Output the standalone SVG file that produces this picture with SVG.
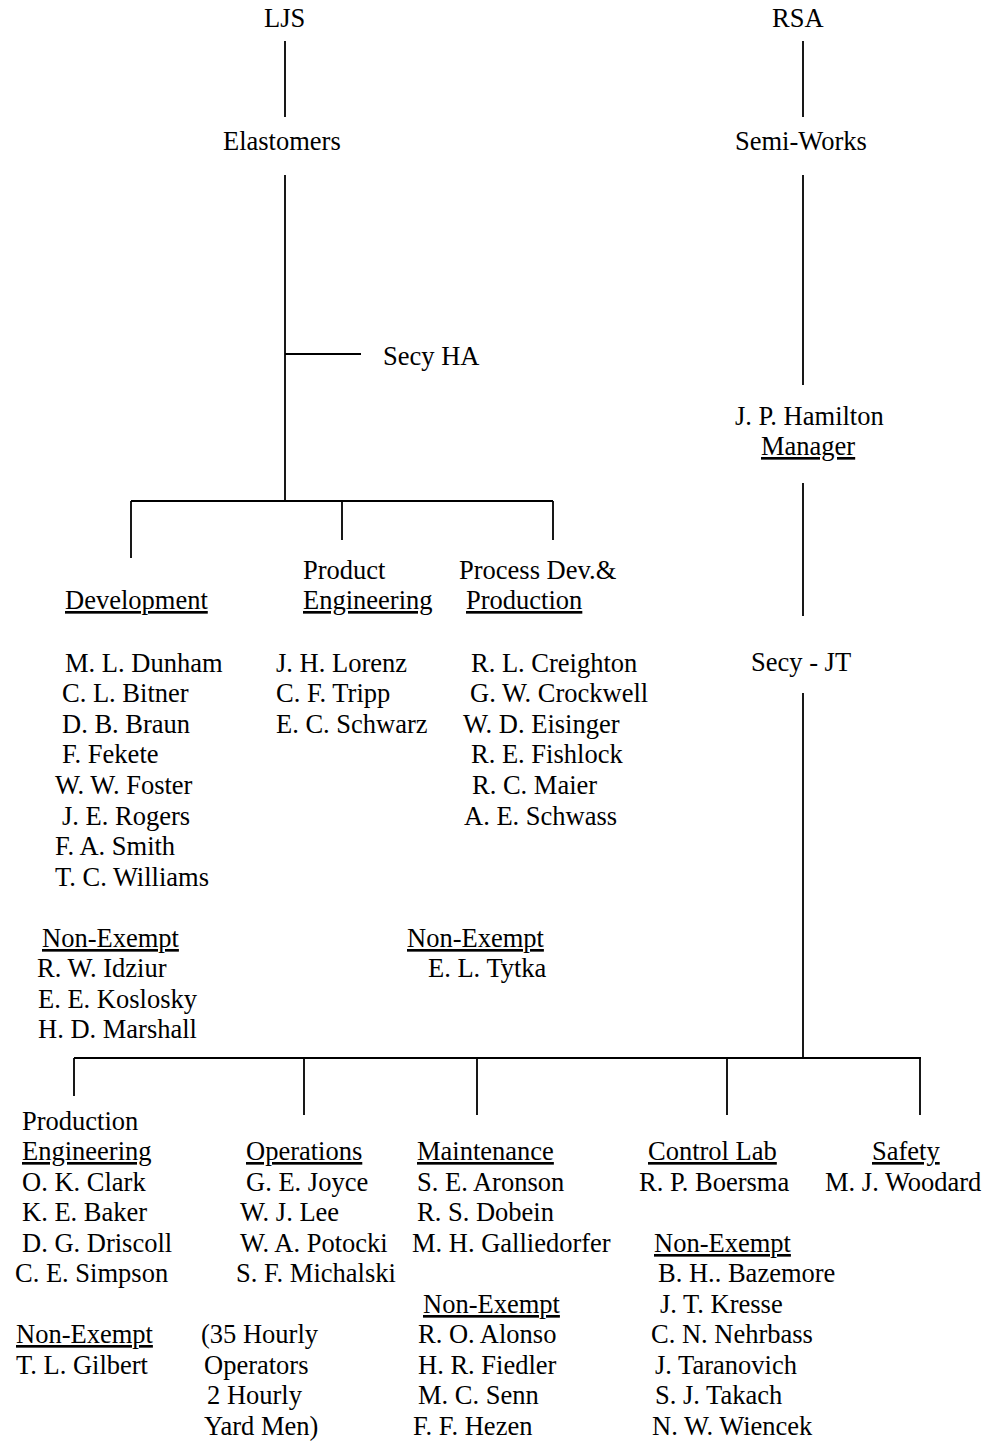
<svg xmlns="http://www.w3.org/2000/svg" width="1007" height="1443" viewBox="0 0 1007 1443">
<style>
text{font-family:"Liberation Serif","Times New Roman",serif;font-size:26.5px;fill:#000}
.u{text-decoration:underline}
.c{stroke:#000;stroke-width:1.8;fill:none}
</style>
<rect width="1007" height="1443" fill="#fff"/>
<g id="connectors" class="c">
<path d="M285 41V117M285 175V501M285 354H361M131 501H553M131 501V558M342 501V540M553 501V540"/>
<path d="M803 41V117M803 175V385M803 483V616M803 693V1058M74 1058H921M74 1058V1096M304 1058V1115M477 1058V1115M727 1058V1115M920 1058V1115"/>
</g>
<g id="ljs"><text x="264" y="27">LJS</text></g>
<g id="elastomers"><text x="223" y="150">Elastomers</text></g>
<g id="secy-ha"><text x="383" y="365">Secy HA</text></g>
<g id="rsa"><text x="772" y="27">RSA</text></g>
<g id="semi-works"><text x="735" y="150">Semi-Works</text></g>
<g id="hamilton"><text x="735" y="425">J. P. Hamilton</text><text class="u" x="761" y="455">Manager</text></g>
<g id="secy-jt"><text x="751" y="671">Secy - JT</text></g>
<g id="development">
<text class="u" x="65" y="609">Development</text>
<text x="65" y="672">M. L. Dunham</text>
<text x="62" y="702">C. L. Bitner</text>
<text x="62" y="733">D. B. Braun</text>
<text x="62" y="763">F. Fekete</text>
<text x="55" y="794">W. W. Foster</text>
<text x="62" y="825">J. E. Rogers</text>
<text x="55" y="855">F. A. Smith</text>
<text x="55" y="886">T. C. Williams</text>
<text class="u" x="42" y="947">Non-Exempt</text>
<text x="37" y="977">R. W. Idziur</text>
<text x="38" y="1008">E. E. Koslosky</text>
<text x="38" y="1038">H. D. Marshall</text>
</g>
<g id="product-engineering">
<text x="303" y="579">Product</text>
<text class="u" x="303" y="609">Engineering</text>
<text x="276" y="672">J. H. Lorenz</text>
<text x="276" y="702">C. F. Tripp</text>
<text x="276" y="733">E. C. Schwarz</text>
</g>
<g id="process-dev">
<text x="459" y="579">Process Dev.&amp;</text>
<text class="u" x="466" y="609">Production</text>
<text x="471" y="672">R. L. Creighton</text>
<text x="470" y="702">G. W. Crockwell</text>
<text x="463" y="733">W. D. Eisinger</text>
<text x="471" y="763">R. E. Fishlock</text>
<text x="472" y="794">R. C. Maier</text>
<text x="464" y="825">A. E. Schwass</text>
<text class="u" x="407" y="947">Non-Exempt</text>
<text x="428" y="977">E. L. Tytka</text>
</g>
<g id="production-engineering">
<text x="22" y="1130">Production</text>
<text class="u" x="22" y="1160">Engineering</text>
<text x="22" y="1191">O. K. Clark</text>
<text x="22" y="1221">K. E. Baker</text>
<text x="22" y="1252">D. G. Driscoll</text>
<text x="15" y="1282">C. E. Simpson</text>
<text class="u" x="16" y="1343">Non-Exempt</text>
<text x="16" y="1374">T. L. Gilbert</text>
</g>
<g id="operations">
<text class="u" x="246" y="1160">Operations</text>
<text x="246" y="1191">G. E. Joyce</text>
<text x="240" y="1221">W. J. Lee</text>
<text x="240" y="1252">W. A. Potocki</text>
<text x="236" y="1282">S. F. Michalski</text>
<text x="201" y="1343">(35 Hourly</text>
<text x="204" y="1374">Operators</text>
<text x="207" y="1404">2 Hourly</text>
<text x="204" y="1435">Yard Men)</text>
</g>
<g id="maintenance">
<text class="u" x="417" y="1160">Maintenance</text>
<text x="417" y="1191">S. E. Aronson</text>
<text x="417" y="1221">R. S. Dobein</text>
<text x="412" y="1252">M. H. Galliedorfer</text>
<text class="u" x="423" y="1313">Non-Exempt</text>
<text x="418" y="1343">R. O. Alonso</text>
<text x="418" y="1374">H. R. Fiedler</text>
<text x="418" y="1404">M. C. Senn</text>
<text x="413" y="1435">F. F. Hezen</text>
</g>
<g id="control-lab">
<text class="u" x="648" y="1160">Control Lab</text>
<text x="639" y="1191">R. P. Boersma</text>
<text class="u" x="654" y="1252">Non-Exempt</text>
<text x="658" y="1282">B. H.. Bazemore</text>
<text x="660" y="1313">J. T. Kresse</text>
<text x="651" y="1343">C. N. Nehrbass</text>
<text x="655" y="1374">J. Taranovich</text>
<text x="655" y="1404">S. J. Takach</text>
<text x="652" y="1435">N. W. Wiencek</text>
</g>
<g id="safety">
<text class="u" x="872" y="1160">Safety</text>
<text x="825" y="1191">M. J. Woodard</text>
</g>
</svg>
